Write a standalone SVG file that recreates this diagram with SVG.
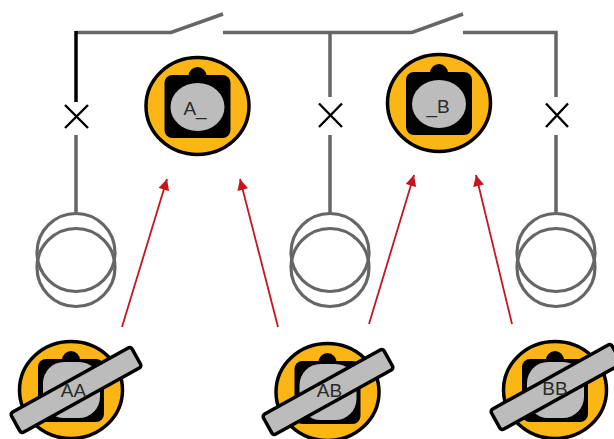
<svg xmlns="http://www.w3.org/2000/svg" width="614" height="439" viewBox="0 0 614 439">
<defs>
<marker id="ah" viewBox="0 0 10 10" refX="10" refY="5" markerWidth="12" markerHeight="11" markerUnits="userSpaceOnUse" orient="auto"><path d="M0 0L10 5L0 10Z" fill="#c4161c"/></marker>
<g id="base">
<ellipse rx="51.500" ry="48.500" fill="#fbb615" stroke="#000" stroke-width="3.500"/>
<circle cx="0" cy="-30" r="9" fill="#000"/>
<rect x="-33" y="-31" width="66" height="63" rx="8" fill="#000"/>
</g>
<g id="plug">
<use href="#base"/>
<ellipse cx="0" cy="1" rx="27" ry="24" fill="#bcbcbc"/>
</g>
<g id="plugLocked">
<use href="#base"/>
<rect x="-28" y="-28" width="57" height="56" rx="21" fill="#bcbcbc"/>
</g>
<g id="bar"><rect x="-69" y="-11.500" width="138" height="23" rx="3" fill="#bcbcbc" stroke="#000" stroke-width="3.500" transform="rotate(-29)"/></g>
</defs>
<style>
.w{fill:none;stroke:#666;stroke-width:3.500}
.x{fill:none;stroke:#000;stroke-width:2.400}
.c{fill:none;stroke:#666;stroke-width:3.200}
.r{stroke:#c4161c;stroke-width:1.800;marker-end:url(#ah)}
text{font-family:"Liberation Sans",Arial,sans-serif;font-size:19px;fill:#2a2a2a;text-anchor:middle}
</style>
<rect width="614" height="439" fill="#fff"/>
<g id="connectors">
<path class="w" d="M76 32.500H171L223 14M223 32.500H412L463 14M463 32.500H556V97"/>
<path class="w" d="M330 33V97M330 135V214M556 135V214M76 135V214"/>
<path d="M76 31V102" fill="none" stroke="#000" stroke-width="3.500"/>
<line class="r" x1="122" y1="327" x2="167" y2="179"/>
<line class="r" x1="278" y1="327" x2="240" y2="179"/>
<line class="r" x1="369" y1="324" x2="414" y2="175"/>
<line class="r" x1="512" y1="324" x2="476" y2="175"/>
</g>
<g id="breaker1"><path class="x" d="M65 105L88 128M88 105L65 128"/></g>
<g id="breaker2"><path class="x" d="M319 103.500L342 127M342 103.500L319 127"/></g>
<g id="breaker3"><path class="x" d="M546 103.500L568 127M568 103.500L546 127"/></g>
<g id="tx1"><circle class="c" cx="76" cy="252.500" r="39"/><circle class="c" cx="76" cy="267.500" r="39"/></g>
<g id="tx2"><circle class="c" cx="330" cy="252.500" r="39"/><circle class="c" cx="330" cy="267.500" r="39"/></g>
<g id="tx3"><circle class="c" cx="556" cy="252.500" r="39"/><circle class="c" cx="556" cy="267.500" r="39"/></g>
<g id="keyA"><use href="#plug" x="197.500" y="106"/><text x="195" y="115">A_</text></g>
<g id="keyB"><use href="#plug" x="439" y="103"/><text x="438" y="113">_B</text></g>
<g id="keyAA"><use href="#plugLocked" x="71" y="390"/><use href="#bar" x="76" y="390"/><text x="73.500" y="397">AA</text></g>
<g id="keyAB"><use href="#plugLocked" x="327.500" y="392"/><use href="#bar" x="328" y="392"/><text x="329.500" y="397">AB</text></g>
<g id="keyBB"><use href="#plugLocked" x="555" y="390"/><use href="#bar" x="556" y="387"/><text x="555" y="395">BB</text></g>
</svg>
